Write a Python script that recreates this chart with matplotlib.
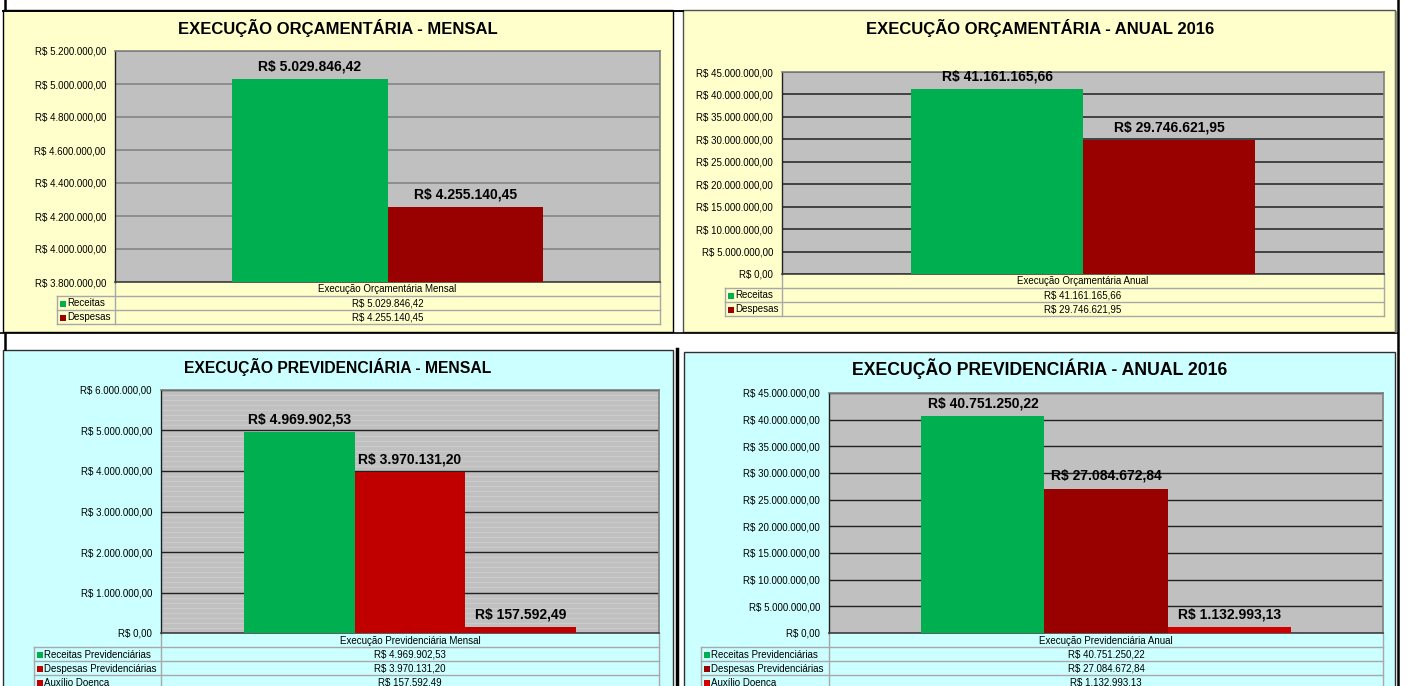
import matplotlib
matplotlib.use("Agg")
import matplotlib.pyplot as plt
from matplotlib.patches import Rectangle
from matplotlib.ticker import FuncFormatter, MultipleLocator

plt.rcParams['font.family'] = ['Liberation Sans', 'DejaVu Sans']

# ---------------- data ----------------
orc_series = ['Receitas', 'Despesas']
orc_mensal_category = 'Execução Orçamentária Mensal'
orc_mensal_values = [5029846.42, 4255140.45]
orc_anual_category = 'Execução Orçamentária Anual'
orc_anual_values = [41161165.66, 29746621.95]

prev_series = ['Receitas Previdenciárias', 'Despesas Previdenciárias', 'Auxílio Doenca']
prev_mensal_category = 'Execução Previdenciária Mensal'
prev_mensal_values = [4969902.53, 3970131.20, 157592.49]
prev_anual_category = 'Execução Previdenciária Anual'
prev_anual_values = [40751250.22, 27084672.84, 1132993.13]

titles = ['EXECUÇÃO ORÇAMENTÁRIA - MENSAL', 'EXECUÇÃO ORÇAMENTÁRIA - ANUAL 2016',
          'EXECUÇÃO PREVIDENCIÁRIA - MENSAL', 'EXECUÇÃO PREVIDENCIÁRIA - ANUAL 2016']


def brl(v, pos=None):
    s = f"{v:,.2f}".replace(',', '#').replace('.', ',').replace('#', '.')
    return 'R$ ' + s


W, H = 1409, 686
fig = plt.figure(figsize=(W / 100, H / 100), dpi=100)
fig.patch.set_facecolor('white')

bg = fig.add_axes([0, 0, 1, 1])
bg.set_xlim(0, W)
bg.set_ylim(H, 0)
bg.axis('off')

YEL = '#FFFFCC'
CYA = '#CCFFFF'

# panels
bg.add_patch(Rectangle((3, 10), 670, 322, fc=YEL, ec='black', lw=1.0))
bg.add_patch(Rectangle((683, 10), 712, 322, fc=YEL, ec='#505050', lw=1.0))
bg.add_patch(Rectangle((3, 350), 670, 360, fc=CYA, ec='#303030', lw=1.0))
bg.add_patch(Rectangle((684, 352), 711, 360, fc=CYA, ec='#303030', lw=1.0))

# black frame lines
bg.plot([4.5, 4.5], [0, 10], color='black', lw=1.8)
bg.plot([3, 683], [10.5, 10.5], color='black', lw=1.4)
bg.plot([1397.5, 1397.5], [0, H], color='black', lw=1.8)
bg.plot([0, 1398], [333, 333], color='black', lw=1.2)
bg.plot([5, 5], [333, 349], color='black', lw=1.8)
bg.plot([676.5, 676.5], [349, H], color='black', lw=2.5)
bg.plot([1395.5, 1395.5], [12, 332], color='#808070', lw=1.2)


def frac(x0, y0, x1, y1):
    return [x0 / W, 1 - y1 / H, (x1 - x0) / W, (y1 - y0) / H]


charts = [
    dict(title=titles[0], tx=338, ty=28, tfs=12, box=(115, 51, 660, 282), leg_left=57,
         cat=orc_mensal_category, series=orc_series, values=orc_mensal_values,
         colors=['#00B050', '#990000'], ylim=(3800000, 5200000), step=200000,
         grid='#808080', glw=1.1, minor=None, bgc=YEL),
    dict(title=titles[1], tx=1040, ty=28, tfs=12, box=(782, 72, 1384, 274), leg_left=725,
         cat=orc_anual_category, series=orc_series, values=orc_anual_values,
         colors=['#00B050', '#990000'], ylim=(0, 45000000), step=5000000,
         grid='#202020', glw=1.1, minor=None, bgc=YEL),
    dict(title=titles[2], tx=338, ty=367, tfs=11.3, box=(161, 390, 659, 633), leg_left=34,
         cat=prev_mensal_category, series=prev_series, values=prev_mensal_values,
         colors=['#00B050', '#C00000', '#C00000'], ylim=(0, 6000000), step=1000000,
         grid='#202020', glw=1.0, minor=125000, bgc=CYA),
    dict(title=titles[3], tx=1040, ty=369, tfs=12.7, box=(829, 393, 1383, 633), leg_left=701,
         cat=prev_anual_category, series=prev_series, values=prev_anual_values,
         colors=['#00B050', '#990000', '#D00000'], ylim=(0, 45000000), step=5000000,
         grid='#202020', glw=1.0, minor=None, bgc=CYA),
]

TABLE_LINE = '#A8A8A8'
ROW_H = 14

for c in charts:
    bg.text(c['tx'], c['ty'], c['title'], ha='center', va='center',
            fontsize=c['tfs'], fontweight='bold', color='black')
    x0, y0, x1, y1 = c['box']
    ax = fig.add_axes(frac(x0, y0, x1, y1))
    ax.set_facecolor('#C0C0C0')
    n = len(c['values'])
    w = 1.0 / (n + 1.5)
    xs = [(i - (n - 1) / 2) * w for i in range(n)]
    bars = ax.bar(xs, c['values'], width=w, color=c['colors'], linewidth=0, zorder=3)
    for b, v in zip(bars, c['values']):
        ax.annotate(brl(v), (b.get_x() + b.get_width() / 2, v), xytext=(0, 4),
                    textcoords='offset points', ha='center', va='bottom',
                    fontsize=10, fontweight='bold', color='black', zorder=5)
    ax.set_xlim(-0.5, 0.5)
    ax.set_ylim(*c['ylim'])
    ax.yaxis.set_major_locator(MultipleLocator(c['step']))
    ax.yaxis.set_major_formatter(FuncFormatter(brl))
    ax.set_xticks([])
    ax.tick_params(axis='y', length=0, pad=6.5, labelsize=7, colors='black')
    ax.set_axisbelow(True)
    ax.yaxis.grid(True, which='major', color=c['grid'], lw=c['glw'], zorder=1)
    if c['minor']:
        ax.yaxis.set_minor_locator(MultipleLocator(c['minor']))
        ax.yaxis.grid(True, which='minor', color='#D0D0D0', lw=0.5, zorder=0.5)
        ax.tick_params(axis='y', which='minor', length=0)
    for s in ['top', 'right']:
        ax.spines[s].set_color('#808080')
        ax.spines[s].set_linewidth(1.2)
    ax.spines['left'].set_color('#202020')
    ax.spines['bottom'].set_color('#404040')
    ax.spines['left'].set_linewidth(1.0)
    ax.spines['bottom'].set_linewidth(1.2)

    # data table below
    ll = c['leg_left']
    ybot = y1 + ROW_H * (n + 1)
    bg.plot([x0, x0], [y1, ybot], color=TABLE_LINE, lw=1.0)
    bg.plot([x1, x1], [y1, ybot], color=TABLE_LINE, lw=1.0)
    bg.plot([ll, ll], [y1 + ROW_H, ybot], color=TABLE_LINE, lw=1.0)
    for r in range(1, n + 2):
        yy = y1 + ROW_H * r
        bg.plot([ll, x1], [yy, yy], color=TABLE_LINE, lw=1.0)
    bg.text((x0 + x1) / 2, y1 + ROW_H / 2 + 0.5, c['cat'], ha='center', va='center',
            fontsize=7, color='black')
    for i, (s, v, col) in enumerate(zip(c['series'], c['values'], c['colors'])):
        yc = y1 + ROW_H * (i + 1) + ROW_H / 2 + 0.5
        bg.add_patch(Rectangle((ll + 3, yc - 3), 6, 6, fc=col, ec='none'))
        bg.text(ll + 10, yc, s, ha='left', va='center', fontsize=7, color='black')
        bg.text((x0 + x1) / 2, yc, brl(v), ha='center', va='center', fontsize=7, color='black')

fig.savefig('out.png', dpi=100, facecolor='white')
